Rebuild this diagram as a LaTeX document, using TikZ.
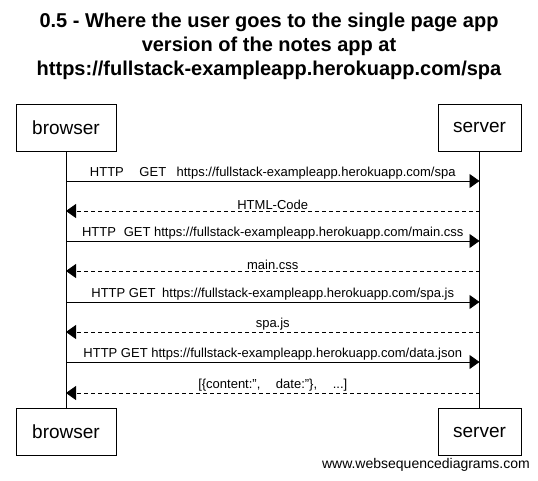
\documentclass[tikz,border=0pt]{standalone}
\usepackage{fontspec}
\setmainfont{Liberation Sans}
\usetikzlibrary{arrows.meta}
\begin{document}
\begin{tikzpicture}[x=1pt,y=-1pt,
  actor/.style={draw,line width=0.8pt,minimum width=100pt,minimum height=47pt,font=\fontsize{19}{22}\selectfont,inner sep=0pt},
  lifeline/.style={line width=0.8pt},
  req/.style={line width=0.8pt,-{Triangle[length=10pt,width=14pt]}},
  resp/.style={line width=0.8pt,dash pattern=on 4pt off 3pt,-{Triangle[length=10pt,width=14pt]}},
  lbl/.style={font=\fontsize{13}{15}\selectfont,inner sep=1pt}]
\useasboundingbox (0,0) rectangle (538,480);
\fill[white] (0,0) rectangle (538,480);
\node[font=\bfseries\fontsize{20}{24}\selectfont,align=center] (title) at (269,46)
  {0.5 - Where the user goes to the single page app\\version of the notes app at\\https://fullstack-exampleapp.herokuapp.com/spa};
\node[actor] (bt) at (66,127.5) {browser};
\node[actor,minimum width=83pt] (st) at (479.5,127.5) {server};
\node[actor] (bb) at (66,432) {browser};
\node[actor,minimum width=83pt] (sb) at (479.5,432) {server};
\draw[lifeline] (bt.south) -- (bb.north);
\draw[lifeline] (st.south) -- (sb.north);
% messages
\foreach \i/\y in {1/181,2/211,3/241,4/271,5/302,6/332,7/362,8/393}{
  \coordinate (b\i) at (66,\y);
  \coordinate (s\i) at (479.5,\y);
}
\draw[req] (b1) -- (s1) node[lbl,midway,above=0pt] (m1) {HTTP\hspace{1.2em}GET\hspace{0.8em}https://fullstack-exampleapp.herokuapp.com/spa};
\draw[resp] (s2) -- (b2) node[lbl,midway,above=0pt] (m2) {HTML-Code};
\draw[req] (b3) -- (s3) node[lbl,midway,above=0pt] (m3) {HTTP\hspace{0.6em}GET https://fullstack-exampleapp.herokuapp.com/main.css};
\draw[resp] (s4) -- (b4) node[lbl,midway,above=0pt] (m4) {main.css};
\draw[req] (b5) -- (s5) node[lbl,midway,above=0pt] (m5) {HTTP GET\hspace{0.5em}https://fullstack-exampleapp.herokuapp.com/spa.js};
\draw[resp] (s6) -- (b6) node[lbl,midway,above=0pt] (m6) {spa.js};
\draw[req] (b7) -- (s7) node[lbl,midway,above=0pt] (m7) {HTTP GET https://fullstack-exampleapp.herokuapp.com/data.json};
\draw[resp] (s8) -- (b8) node[lbl,midway,above=0pt] (m8) {[\{content:'',\hspace{1.2em}date:''\},\hspace{1.2em}...]};
\node[font=\fontsize{14}{16}\selectfont,anchor=east,inner sep=0pt] (wm) at (530,465) {www.websequencediagrams.com};
\end{tikzpicture}
\end{document}
